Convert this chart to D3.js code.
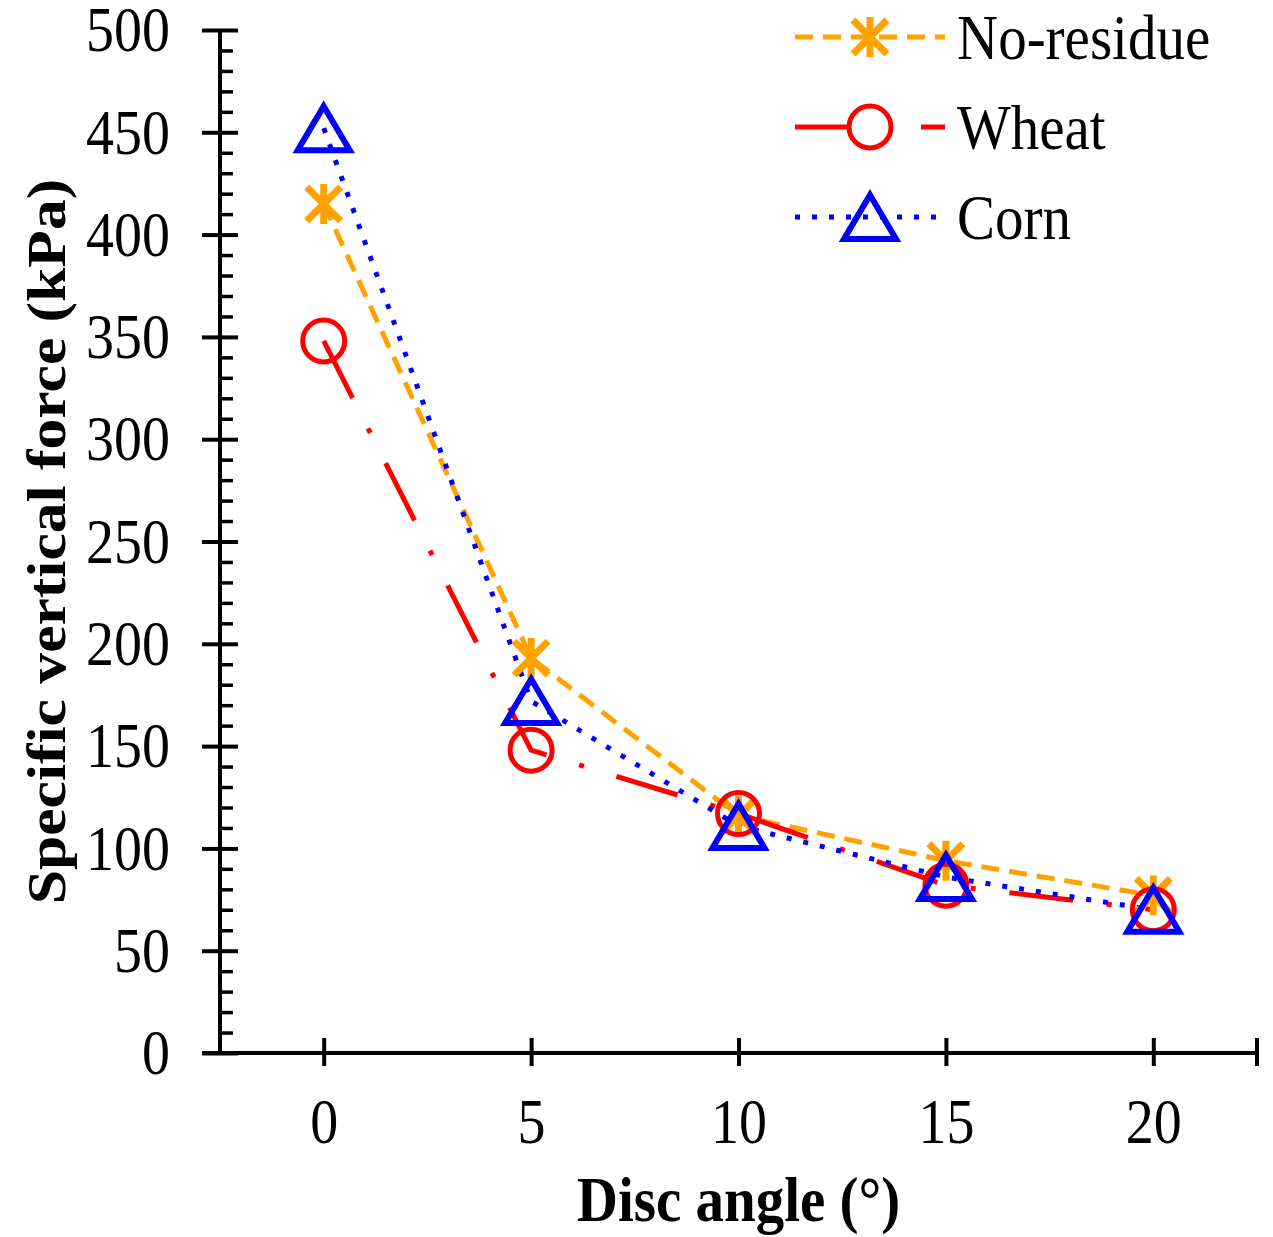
<!DOCTYPE html>
<html>
<head>
<meta charset="utf-8">
<script src="https://cdn.jsdelivr.net/npm/d3@7"></script>
<style>
  body { margin: 0; background: #fff; }
  svg text { font-family: "Liberation Serif", "Times New Roman", serif; fill: #000; }
  .axis path, .axis line { stroke: #000; }
</style>
</head>
<body>
<div id="chart"></div>
<script>
// disc angle categories and measured specific vertical force (kPa)
const angles = ["0", "5", "10", "15", "20"];
const noResidue = [415, 193, 116, 94, 77];
const wheat = [348, 148, 117, 82, 70];
const corn = [452, 172, 111, 86, 70];
const yTicks = [0, 50, 100, 150, 200, 250, 300, 350, 400, 450, 500];

const seriesList = [
    {name: "No-residue", values: noResidue, color: "#FFA200", dash: "18,10", marker: "star"},
    {name: "Wheat", values: wheat, color: "#FF0000", dash: "64,34,5,34", marker: "circle"},
    {name: "Corn", values: corn, color: "#0000FF", dash: "5,12", marker: "triangle"}
];

const W = 1273, H = 1237;

let svg = d3.select("#chart").append("svg")
    .attr("width", W)
    .attr("height", H);

// scales
let x = d3.scalePoint()
    .domain(angles)
    .range([220, 1257])
    .padding(0.5);

let y = d3.scaleLinear()
    .domain([0, 500])
    .range([1053, 30]);

const fontSize = 56;
const stretch = 1.12;   // the original glyphs are a bit taller than wide

// y axis: labels + left half of major ticks
let yAxisLeft = d3.axisLeft(y)
    .tickValues(yTicks)
    .tickSize(18)
    .tickPadding(32)
    .tickFormat(d3.format("d"));

let gy = svg.append("g")
    .attr("class", "axis")
    .attr("transform", "translate(" + x.range()[0] + ",0)")
    .call(yAxisLeft);
gy.select(".domain").remove();
gy.selectAll("line").attr("stroke-width", 4);
gy.selectAll("text")
    .style("font-size", fontSize + "px")
    .attr("dy", "0.33em")
    .attr("transform", "scale(1," + stretch + ")");

// right half of major ticks
let gy2 = svg.append("g")
    .attr("class", "axis")
    .attr("transform", "translate(" + x.range()[0] + ",0)")
    .call(d3.axisRight(y).tickValues(yTicks).tickSize(18).tickFormat(""));
gy2.select(".domain").remove();
gy2.selectAll("line").attr("stroke-width", 4);

// minor ticks every 10
let minor = d3.range(10, 500, 10).filter(d => d % 50 !== 0);
let gy3 = svg.append("g")
    .attr("class", "axis")
    .attr("transform", "translate(" + x.range()[0] + ",0)")
    .call(d3.axisRight(y).tickValues(minor).tickSize(13).tickFormat(""));
gy3.select(".domain").remove();
gy3.selectAll("line").attr("stroke-width", 3.5);

// vertical axis line
svg.append("line")
    .attr("x1", x.range()[0]).attr("x2", x.range()[0])
    .attr("y1", y(500)).attr("y2", y(0))
    .attr("stroke", "#000").attr("stroke-width", 4);

// x axis
let xAxis = d3.axisBottom(x)
    .tickSize(0)
    .tickSizeOuter(0);

let gx = svg.append("g")
    .attr("class", "axis")
    .attr("transform", "translate(0," + y(0) + ")")
    .call(xAxis);
gx.select(".domain").remove();
gx.selectAll(".tick line")
    .attr("y1", -15)
    .attr("y2", 13)
    .attr("stroke-width", 4);
gx.selectAll("text")
    .style("font-size", fontSize + "px")
    .attr("y", 90 / stretch)
    .attr("dy", 0)
    .attr("transform", "scale(1," + stretch + ")");

gx.append("line")
    .attr("x1", x.range()[0] - 18).attr("x2", x.range()[1])
    .attr("y1", 0).attr("y2", 0)
    .attr("stroke", "#000").attr("stroke-width", 4);
gx.append("line")
    .attr("x1", x.range()[1]).attr("x2", x.range()[1])
    .attr("y1", -15).attr("y2", 13)
    .attr("stroke", "#000").attr("stroke-width", 4);

// axis titles
svg.append("text")
    .attr("transform", "translate(" + (x.range()[0] + x.range()[1]) / 2 + ",1221) scale(1," + stretch + ")")
    .attr("text-anchor", "middle")
    .style("font-size", "57px")
    .style("font-weight", "bold")
    .text("Disc angle (°)");

svg.append("text")
    .attr("transform", "translate(65," + (y(0) + y(500)) / 2 + ") rotate(-90) scale(" + stretch + ",1)")
    .attr("text-anchor", "middle")
    .style("font-size", "55px")
    .style("font-weight", "bold")
    .text("Specific vertical force (kPa)");

// markers (centred on their bounding box, as in the spreadsheet original)
function drawMarker(g, type, color) {
    if (type === "circle") {
        g.append("circle")
            .attr("r", 21)
            .attr("fill", "none")
            .attr("stroke", color)
            .attr("stroke-width", 5);
    } else if (type === "triangle") {
        g.append("path")
            .attr("d", "M0,-22 L26,22 L-26,22 Z")
            .attr("fill", "none")
            .attr("stroke", color)
            .attr("stroke-width", 6)
            .attr("stroke-linejoin", "miter");
    } else {
        let s = 17;
        g.append("path")
            .attr("d", "M" + (-s) + "," + (-s) + "L" + s + "," + s +
                       "M" + (-s) + "," + s + "L" + s + "," + (-s) +
                       "M0," + (-s - 3) + "L0," + (s + 3))
            .attr("stroke", color)
            .attr("stroke-width", 7);
    }
}

let line = d3.line()
    .x((d, i) => x(angles[i]))
    .y(d => y(d));

seriesList.forEach(s => {
    svg.append("path")
        .datum(s.values)
        .attr("d", line)
        .attr("fill", "none")
        .attr("stroke", s.color)
        .attr("stroke-width", 5)
        .attr("stroke-dasharray", s.dash);
});

seriesList.forEach(s => {
    s.values.forEach((v, i) => {
        let g = svg.append("g")
            .attr("transform", "translate(" + x(angles[i]) + "," + y(v) + ")");
        drawMarker(g, s.marker, s.color);
    });
});

// legend
let legend = svg.append("g").attr("transform", "translate(795,37)");
seriesList.forEach((s, i) => {
    let row = legend.append("g").attr("transform", "translate(0," + i * 90 + ")");
    row.append("line")
        .attr("x1", 0).attr("x2", 150)
        .attr("y1", 0).attr("y2", 0)
        .attr("stroke", s.color)
        .attr("stroke-width", 5)
        .attr("stroke-dasharray", s.marker === "circle" ? "56,70,24" : s.dash);
    let m = row.append("g").attr("transform", "translate(75,0)");
    drawMarker(m, s.marker, s.color);
    row.append("text")
        .attr("transform", "translate(162,0) scale(1," + stretch + ")")
        .attr("dy", "0.34em")
        .style("font-size", "57px")
        .text(s.name);
});
</script>
</body>
</html>
